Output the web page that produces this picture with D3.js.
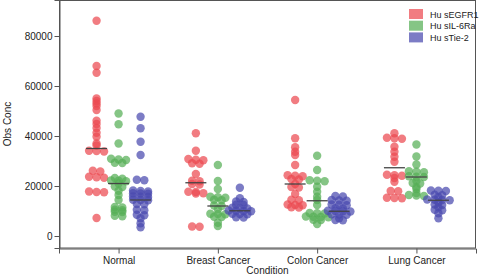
<!DOCTYPE html>
<html>
<head>
<meta charset="utf-8">
<script src="https://cdn.jsdelivr.net/npm/d3@7"></script>
<style>
body{margin:0;background:#fff;}
text{font-family:"Liberation Sans",Arial,sans-serif;fill:#222;}
</style>
</head>
<body>
<svg id="chart" width="480" height="276"></svg>
<script>
const categories = ["Normal", "Breast Cancer", "Colon Cancer", "Lung Cancer"];
const seriesNames = ["Hu sEGFR1", "Hu sIL-6Ra", "Hu sTie-2"];
const seriesColors = ["#ec4a50", "#56ae56", "#4a4aae"];
const yTicks = [0, 20000, 40000, 60000, 80000];

// observed values per category, per series
const normalEGFR = [86100, 68000, 65300, 55000, 54000, 53000, 52000, 50400, 46100, 44800, 43200, 41300, 39700, 37000, 36200, 34100, 34000, 33800, 26100, 25800, 23700, 23500, 23300, 17800, 17600, 17500, 7200];
const normalIL6 = [49000, 44700, 37000, 30900, 30600, 30400, 29300, 29200, 23200, 22900, 22200, 22100, 21900, 21000, 19800, 19600, 18100, 16400, 14400, 11600, 11400, 10500, 10300, 9700, 9600, 8100, 7900];
const normalTie2 = [47700, 43100, 37700, 32400, 22500, 22300, 18200, 18000, 17800, 17100, 17000, 16900, 15800, 15700, 15600, 14500, 14400, 14300, 12800, 12700, 10500, 10300, 8500, 8300, 7100, 5100, 3500];

const breastEGFR = [41100, 34100, 30800, 30500, 30300, 29100, 28900, 24800, 22100, 21900, 20800, 20600, 17700, 17600, 17100, 17000, 3800, 3700];
const breastIL6 = [28400, 22000, 18800, 15700, 15500, 15300, 14500, 14300, 12200, 12000, 10700, 8900, 8800, 8700, 7700, 7600, 5300, 4000];
const breastTie2 = [19300, 15100, 13800, 13600, 12500, 12400, 11300, 11100, 11000, 10200, 10100, 10000, 9900, 8900, 8800, 8700, 7500, 7400];

const colonEGFR = [54400, 39100, 35500, 33700, 32400, 28400, 24300, 24100, 23900, 22800, 22600, 20800, 19600, 19400, 16800, 14500, 14300, 12600, 12400, 12300, 11500, 11400];
const colonIL6 = [32100, 26400, 22300, 22100, 21900, 19700, 17700, 15700, 14400, 12400, 9200, 9100, 9000, 7800, 7700, 7600, 7500, 6500, 6400, 4800];
const colonTie2 = [16000, 15800, 14400, 14200, 14100, 12600, 12500, 12300, 11100, 11000, 10100, 10000, 9900, 9800, 8700, 8600, 8500, 7100, 6400, 6300];

const lungEGFR = [41100, 39300, 39100, 38900, 35700, 33700, 31700, 29700, 24500, 24300, 24100, 23200, 21700, 18000, 17900, 15300, 15200, 15100];
const lungIL6 = [36600, 31800, 28600, 25900, 25700, 25500, 23900, 23700, 23600, 22000, 21200, 21000, 19500, 18800, 17200, 16400, 16200, 16000];
const lungTie2 = [18200, 18100, 18000, 16500, 16300, 15500, 14600, 14500, 14400, 14300, 13400, 12600, 12400, 11500, 10500, 10300, 9100, 7100];

// center line (summary) values per category, per series
const centerEGFR = [35000, 21300, 20800, 27300];
const centerIL6 = [21000, 12000, 14100, 23600];
const centerTie2 = [14400, 10100, 9900, 14300];

const values = [
  [normalEGFR, normalIL6, normalTie2],
  [breastEGFR, breastIL6, breastTie2],
  [colonEGFR, colonIL6, colonTie2],
  [lungEGFR, lungIL6, lungTie2]
];
const centers = [centerEGFR, centerIL6, centerTie2];

const svg = d3.select("#chart");
const mLeft = 59, mRight = 476, mTop = 0, mBottom = 248;

const x = d3.scalePoint().domain(categories).range([mLeft, mRight]).padding(0.6);
const xSub = d3.scalePoint().domain(seriesNames).range([-22, 22]);
const y = d3.scaleLinear().domain([-4800, 94400]).range([mBottom, mTop]);

// frame
svg.append("rect").attr("x", mLeft + 0.5).attr("y", mTop + 0.5)
  .attr("width", mRight - mLeft - 1).attr("height", mBottom - mTop - 0.5)
  .attr("fill", "none").attr("stroke", "#555").attr("stroke-width", 1);

// axes
const yAxis = svg.append("g").attr("transform", `translate(${mLeft + 0.5},0)`)
  .call(d3.axisLeft(y).tickValues(yTicks).tickFormat(d3.format("d")).tickSize(5).tickPadding(2));
const xAxis = svg.append("g").attr("transform", `translate(0,${mBottom + 0.5})`)
  .call(d3.axisBottom(x).tickSize(5).tickPadding(3));
[yAxis, xAxis].forEach(g => {
  g.select(".domain").attr("stroke", "#555");
  g.selectAll(".tick line").attr("stroke", "#555");
  g.selectAll(".tick text").attr("font-size", "10px").attr("fill", "#222")
    .attr("font-family", "'Liberation Sans', Arial, sans-serif");
});

// axis titles
svg.append("text").attr("transform", `translate(11,${(mTop + mBottom) / 2}) rotate(-90)`)
  .attr("text-anchor", "middle").attr("font-size", "10px").text("Obs Conc");
svg.append("text").attr("x", (mLeft + mRight) / 2).attr("y", 274)
  .attr("text-anchor", "middle").attr("font-size", "10px").text("Condition");

// row-based dot layout: near-equal values sit side by side
const r = 4.2, gap = 7.5, thresh = 1.6;
function rows(vals) {
  const pts = vals.map(v => ({v, py: y(v)})).sort((a, b) => a.py - b.py);
  const out = [];
  let row = [];
  pts.forEach(p => {
    if (row.length && p.py - row[0].py >= thresh) { out.push(row); row = []; }
    row.push(p);
  });
  if (row.length) out.push(row);
  out.forEach(rw => rw.forEach((p, i) => { p.dx = (i - (rw.length - 1) / 2) * gap; }));
  return pts;
}

const plot = svg.append("g");
categories.forEach((cat, ci) => {
  seriesNames.forEach((s, si) => {
    const cx = x(cat) + xSub(s);
    const pts = rows(values[ci][si]);
    plot.selectAll(null).data(pts).enter().append("circle")
      .attr("cx", p => cx + p.dx).attr("cy", p => p.py).attr("r", r)
      .attr("fill", seriesColors[si]).attr("fill-opacity", 0.72);
  });
});
categories.forEach((cat, ci) => {
  seriesNames.forEach((s, si) => {
    const cx = x(cat) + xSub(s);
    plot.append("line").attr("x1", cx - 10.5).attr("x2", cx + 10.5)
      .attr("y1", y(centers[si][ci])).attr("y2", y(centers[si][ci]))
      .attr("stroke", "#444").attr("stroke-width", 1.3);
  });
});

// legend
const lg = svg.append("g");
seriesNames.forEach((s, i) => {
  lg.append("rect").attr("x", 409).attr("y", 9 + i * 11.7).attr("width", 14).attr("height", 10)
    .attr("fill", seriesColors[i]).attr("fill-opacity", 0.72);
  lg.append("text").attr("x", 430).attr("y", 17.5 + i * 11.7).attr("font-size", "9px").text(s);
});
</script>
</body>
</html>
